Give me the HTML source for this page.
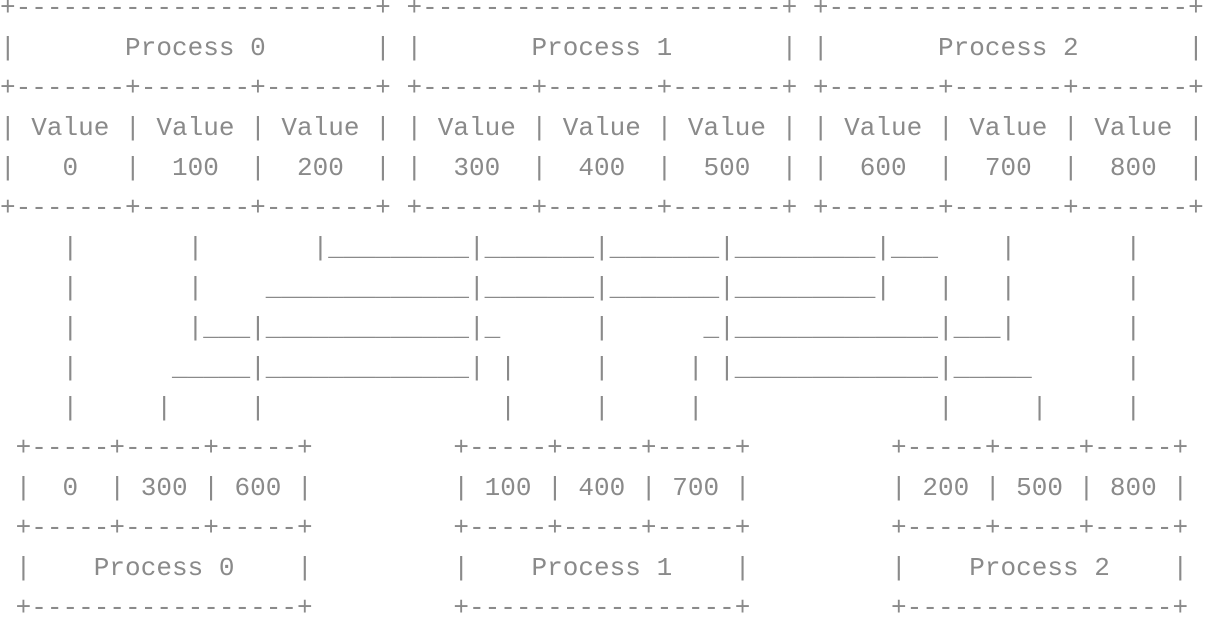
<!DOCTYPE html>
<html><head><meta charset="utf-8"><style>
html,body{margin:0;padding:0;background:#fff;width:1206px;height:622px;overflow:hidden;}
pre{position:absolute;left:0;top:-12px;margin:0;font-family:"Liberation Mono",monospace;font-size:26px;line-height:40px;color:#8a8a8a;letter-spacing:0.03px;}
</style></head><body>
<pre>+-----------------------+ +-----------------------+ +-----------------------+
|       Process 0       | |       Process 1       | |       Process 2       |
+-------+-------+-------+ +-------+-------+-------+ +-------+-------+-------+
| Value | Value | Value | | Value | Value | Value | | Value | Value | Value |
|   0   |  100  |  200  | |  300  |  400  |  500  | |  600  |  700  |  800  |
+-------+-------+-------+ +-------+-------+-------+ +-------+-------+-------+
    |       |       |_________|_______|_______|_________|___    |       |
    |       |    _____________|_______|_______|_________|   |   |       |
    |       |___|_____________|_      |      _|_____________|___|       |
    |      _____|_____________| |     |     | |_____________|_____      |
    |     |     |               |     |     |               |     |     |
 +-----+-----+-----+         +-----+-----+-----+         +-----+-----+-----+
 |  0  | 300 | 600 |         | 100 | 400 | 700 |         | 200 | 500 | 800 |
 +-----+-----+-----+         +-----+-----+-----+         +-----+-----+-----+
 |    Process 0    |         |    Process 1    |         |    Process 2    |
 +-----------------+         +-----------------+         +-----------------+</pre>
</body></html>
